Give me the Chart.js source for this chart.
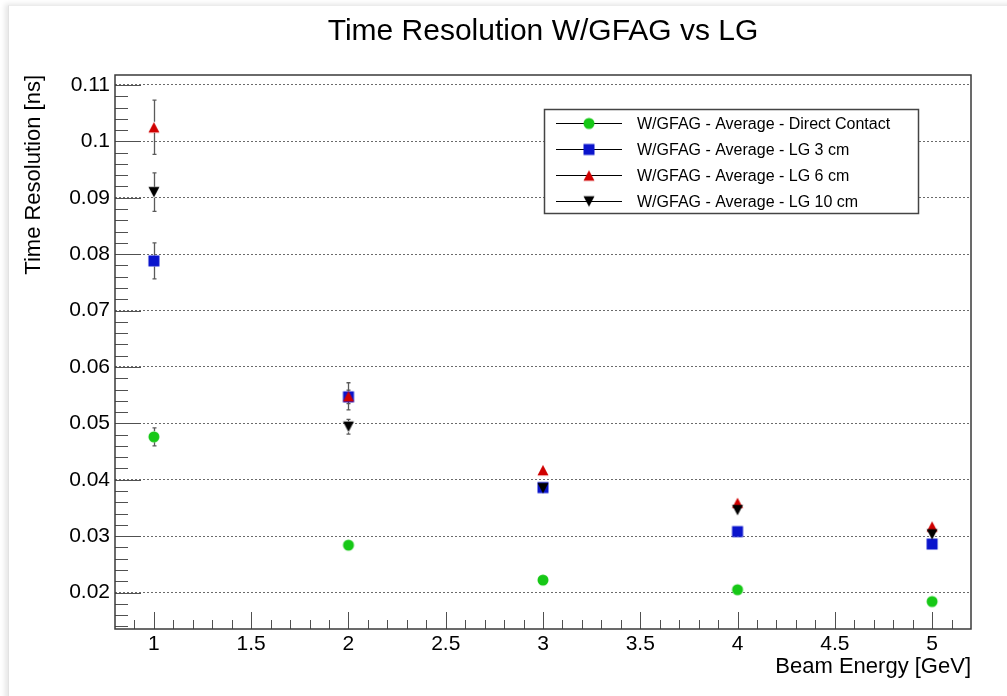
<!DOCTYPE html>
<html>
<head>
<meta charset="utf-8">
<title>Time Resolution W/GFAG vs LG</title>
<script src="https://cdn.jsdelivr.net/npm/chart.js@4/dist/chart.umd.min.js"></script>
<style>
  html, body { margin: 0; padding: 0; background: #fff; }
  #wrap { position: relative; width: 1007px; height: 696px; overflow: hidden; }
  #pad {
    position: absolute; left: 8px; top: 5px; width: 1010px; height: 700px;
    border-left: 1px solid #e2e2e2; border-top: 1px solid #ececec;
    box-shadow: -3px -1px 5px rgba(0, 0, 0, 0.10);
    background: #fff;
  }
  #chart { position: absolute; left: 0; top: 0; }
</style>
</head>
<body>
<div id="wrap">
  <div id="pad"></div>
  <canvas id="chart" width="1007" height="696"></canvas>
</div>
<script>
/* Time resolution vs beam energy, ROOT-style scatter with error bars */

const energies = [1, 2, 3, 4, 5];

const directContact    = [0.0476, 0.0284, 0.0222, 0.0205, 0.0184];
const directContactErr = [0.0016, 0.0005, 0.0004, 0.0004, 0.0004];
const lg3cm            = [0.0788, 0.0547, 0.0386, 0.0308, 0.0286];
const lg3cmErr         = [0.0032, 0.0012, 0.0006, 0.0005, 0.0005];
const lg6cm            = [0.1025, 0.0548, 0.0417, 0.0359, 0.0317];
const lg6cmErr         = [0.0048, 0.0024, 0.0008, 0.0006, 0.0006];
const lg10cm           = [0.0910, 0.0494, 0.0385, 0.0346, 0.0303];
const lg10cmErr        = [0.0034, 0.0013, 0.0007, 0.0006, 0.0005];

const xTickValues = [1, 1.5, 2, 2.5, 3, 3.5, 4, 4.5, 5];
const xTickLabels = ["1", "1.5", "2", "2.5", "3", "3.5", "4", "4.5", "5"];
const yTickValues = [0.02, 0.03, 0.04, 0.05, 0.06, 0.07, 0.08, 0.09, 0.1, 0.11];
const yTickLabels = ["0.02", "0.03", "0.04", "0.05", "0.06", "0.07", "0.08", "0.09", "0.1", "0.11"];

const FONT = "'Liberation Sans', Arial, Helvetica, sans-serif";
const MARKER_HALF = 5.5;

// ── Marker sprites (ROOT-like, box-centred) ─────────────────

function makeMarker(shape, color) {
  const c = document.createElement("canvas");
  c.width = 14; c.height = 14;
  const g = c.getContext("2d");
  g.fillStyle = color;
  g.beginPath();
  if (shape === "circle") {
    g.arc(7, 7, 5.5, 0, Math.PI * 2);
  } else if (shape === "square") {
    g.rect(1.5, 1.5, 11, 11);
  } else if (shape === "up") {
    g.moveTo(7, 1.7); g.lineTo(12.5, 12.3); g.lineTo(1.5, 12.3);
  } else {
    g.moveTo(7, 12.3); g.lineTo(12.5, 1.7); g.lineTo(1.5, 1.7);
  }
  g.closePath();
  g.fill();
  return c;
}

function series(label, values, errors, shape, color, order) {
  return {
    label,
    data: energies.map((e, i) => ({ x: e, y: values[i] })),
    errors,
    marker: makeMarker(shape, color),
    pointStyle: makeMarker(shape, color),
    pointRadius: 6,
    showLine: false,
    order,
  };
}

const datasets = [
  series("W/GFAG - Average - Direct Contact", directContact, directContactErr, "circle", "#16c816", 4),
  series("W/GFAG - Average - LG 3 cm", lg3cm, lg3cmErr, "square", "#0a14cc", 3),
  series("W/GFAG - Average - LG 6 cm", lg6cm, lg6cmErr, "up", "#d00000", 2),
  series("W/GFAG - Average - LG 10 cm", lg10cm, lg10cmErr, "down", "#000000", 1),
];

// ── Plugins ─────────────────────────────────────────────────

const errorBars = {
  id: "errorBars",
  beforeDatasetsDraw(chart) {
    const { ctx, scales: { x, y } } = chart;
    ctx.save();
    ctx.strokeStyle = "#5a5a5a";
    ctx.lineWidth = 1.3;
    chart.data.datasets.forEach(ds => {
      ds.data.forEach((p, i) => {
        const px = Math.round(x.getPixelForValue(p.x)) + 0.5;
        const py = y.getPixelForValue(p.y);
        const top = y.getPixelForValue(p.y + ds.errors[i]);
        const bot = y.getPixelForValue(p.y - ds.errors[i]);
        if (py - top <= MARKER_HALF + 0.5) return;
        ctx.beginPath();
        ctx.moveTo(px, top); ctx.lineTo(px, py - MARKER_HALF);
        ctx.moveTo(px, py + MARKER_HALF); ctx.lineTo(px, bot);
        ctx.moveTo(px - 2, top); ctx.lineTo(px + 2, top);
        ctx.moveTo(px - 2, bot); ctx.lineTo(px + 2, bot);
        ctx.stroke();
      });
    });
    ctx.restore();
  },
};

const frameAndTicks = {
  id: "frameAndTicks",
  afterDraw(chart) {
    const { ctx, chartArea: a, scales: { x, y } } = chart;
    ctx.save();
    ctx.strokeStyle = "#505050";
    ctx.lineWidth = 1;
    ctx.beginPath();
    // y ticks on the left edge, inside the frame
    for (let k = Math.ceil(y.min / 0.002); k * 0.002 <= y.max; k++) {
      const v = k * 0.002;
      const major = Math.abs(v * 100 - Math.round(v * 100)) < 1e-6;
      const py = Math.round(y.getPixelForValue(v)) + 0.5;
      ctx.moveTo(a.left, py);
      ctx.lineTo(a.left + (major ? 26 : 13), py);
    }
    // x ticks on the bottom edge, inside the frame
    for (let k = Math.ceil(x.min * 10 + 1e-6); k / 10 < x.max; k++) {
      const major = k % 5 === 0;
      const px = Math.round(x.getPixelForValue(k / 10)) + 0.5;
      ctx.moveTo(px, a.bottom);
      ctx.lineTo(px, a.bottom - (major ? 17 : 9));
    }
    ctx.stroke();

    ctx.strokeStyle = "#3a3a3a";
    ctx.lineWidth = 1.5;
    ctx.strokeRect(a.left, a.top, a.right - a.left, a.bottom - a.top);

    // title centred over the frame
    ctx.fillStyle = "#000";
    ctx.font = "30px " + FONT;
    ctx.textAlign = "center";
    ctx.textBaseline = "alphabetic";
    ctx.fillText("Time Resolution W/GFAG vs LG", (a.left + a.right) / 2, 40);
    ctx.restore();
  },
};

const rootLegend = {
  id: "rootLegend",
  afterDraw(chart) {
    const { ctx } = chart;
    const box = { x: 544.5, y: 109.5, w: 374, h: 104 };
    ctx.save();
    ctx.fillStyle = "#fff";
    ctx.fillRect(box.x, box.y, box.w, box.h);
    ctx.strokeStyle = "#444";
    ctx.lineWidth = 1.5;
    ctx.strokeRect(box.x, box.y, box.w, box.h);
    ctx.font = "16px " + FONT;
    ctx.textAlign = "left";
    ctx.textBaseline = "middle";
    chart.data.datasets.forEach((ds, i) => {
      const ry = Math.round(box.y + 13 + i * 26.3) + 0.5;
      ctx.strokeStyle = "#000";
      ctx.lineWidth = 1;
      ctx.beginPath();
      ctx.moveTo(556, ry); ctx.lineTo(622, ry);
      ctx.stroke();
      ctx.drawImage(ds.marker, 589 - 7, ry - 7);
      ctx.fillStyle = "#000";
      ctx.fillText(ds.label, 637, ry + 1);
    });
    ctx.restore();
  },
};

// ── Chart ───────────────────────────────────────────────────

new Chart(document.getElementById("chart"), {
  type: "scatter",
  data: { datasets },
  plugins: [errorBars, frameAndTicks, rootLegend],
  options: {
    responsive: false,
    devicePixelRatio: 1,
    animation: false,
    events: [],
    layout: { padding: { top: 75, right: 36, left: 0, bottom: 0 } },
    plugins: { legend: { display: false }, tooltip: { enabled: false } },
    scales: {
      x: {
        type: "linear",
        min: 0.8,
        max: 5.2,
        afterBuildTicks: s => { s.ticks = xTickValues.map(v => ({ value: v })); },
        afterFit: s => { s.height = 67; },
        grid: { display: false, drawTicks: false },
        border: { display: false },
        ticks: {
          autoSkip: false,
          maxRotation: 0,
          padding: 3,
          color: "#000",
          font: { family: FONT, size: 21 },
          callback: (v, i) => xTickLabels[i],
        },
        title: {
          display: true,
          text: "Beam Energy [GeV]",
          align: "end",
          color: "#000",
          font: { family: FONT, size: 22 },
          padding: { top: 0, bottom: 16 },
        },
      },
      y: {
        type: "linear",
        min: 0.01353,
        max: 0.11177,
        afterBuildTicks: s => { s.ticks = yTickValues.map(v => ({ value: v })); },
        afterFit: s => { s.width = 115; },
        grid: { color: "#6a6a6a", lineWidth: 1, drawTicks: false },
        border: { display: false, dash: [2, 2] },
        ticks: {
          padding: 5,
          color: "#000",
          font: { family: FONT, size: 21 },
          callback: (v, i) => yTickLabels[i],
        },
        title: {
          display: true,
          text: "Time Resolution [ns]",
          align: "end",
          color: "#000",
          font: { family: FONT, size: 22 },
          padding: { top: 21, bottom: 0 },
        },
      },
    },
  },
});
</script>
</body>
</html>
